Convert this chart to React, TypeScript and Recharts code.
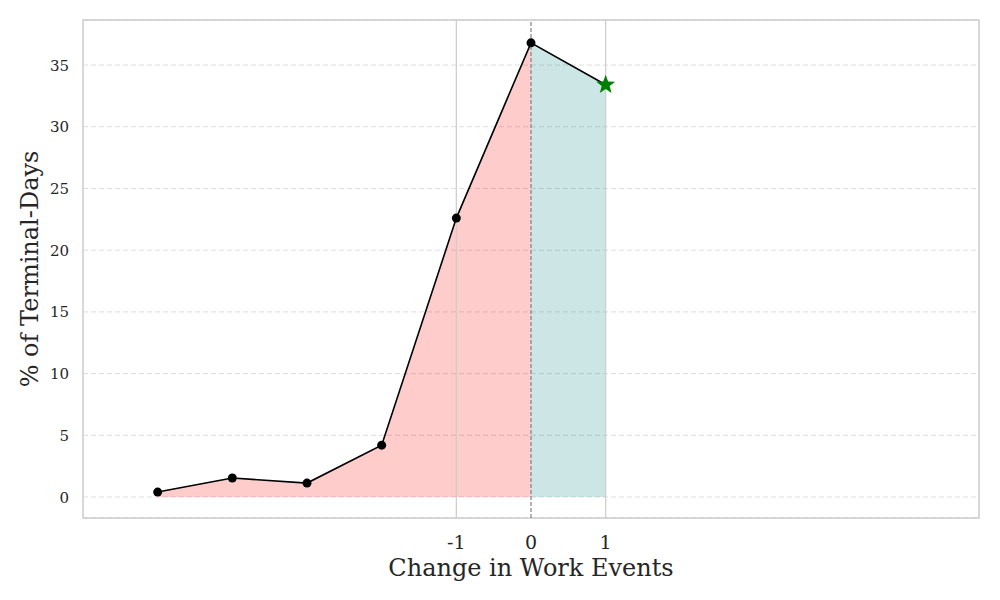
import React from 'react';
import {
  ComposedChart, Area, Line, XAxis, YAxis, CartesianGrid, ReferenceLine, ReferenceArea,
} from 'recharts';

const changes = [-5, -4, -3, -2, -1, 0, 1];
const pctDays = [0.4, 1.54, 1.13, 4.2, 22.6, 36.8, 33.4];
const xTicks = [-1, 0, 1];
const yTicks = [0, 5, 10, 15, 20, 25, 30, 35];

const data = changes.map((x, i) => ({
  x,
  v: pctDays[i],
  neg: x <= 0 ? pctDays[i] : null,
  pos: x >= 0 ? pctDays[i] : null,
}));

const FONT = '"DejaVu Serif", serif';
const INK = '#262626';
const lastX = changes[changes.length - 1];

const starPoints = (cx: number, cy: number, r: number) => {
  const pts: string[] = [];
  for (let k = 0; k < 10; k++) {
    const rad = k % 2 === 0 ? r : r * 0.42;
    const a = -Math.PI / 2 + (k * Math.PI) / 5;
    pts.push(`${cx + rad * Math.cos(a)},${cy + rad * Math.sin(a)}`);
  }
  return pts.join(' ');
};

const Dot = (props: any) => {
  const { cx, cy, payload, index } = props;
  if (cx == null || cy == null) return <g key={index} />;
  if (payload.x === lastX) {
    return <polygon key={index} points={starPoints(cx, cy, 10)} fill="#008000" />;
  }
  return <circle key={index} cx={cx} cy={cy} r={4.5} fill="#000" />;
};

const XTick = (props: any) => {
  const { x, y, payload } = props;
  return (
    <text x={x} y={y + 31} textAnchor="middle" fontFamily={FONT} fontSize={19} fill={INK}>
      {payload.value}
    </text>
  );
};

const YTick = (props: any) => {
  const { x, y, payload } = props;
  return (
    <text x={x - 14} y={y + 5.5} textAnchor="end" fontFamily={FONT} fontSize={15} fill={INK}>
      {payload.value}
    </text>
  );
};

const XLabel = (props: any) => {
  const { viewBox } = props;
  return (
    <text x={viewBox.x + viewBox.width / 2} y={576} textAnchor="middle" fontFamily={FONT} fontSize={24} fill={INK}>
      Change in Work Events
    </text>
  );
};

const YLabel = (props: any) => {
  const { viewBox } = props;
  const cy = viewBox.y + viewBox.height / 2;
  return (
    <text x={38} y={cy} transform={`rotate(-90, 38, ${cy})`} textAnchor="middle" fontFamily={FONT} fontSize={24} fill={INK}>
      % of Terminal-Days
    </text>
  );
};

export default function App() {
  return (
    <div style={{ position: 'absolute', left: 0, top: 0, background: '#fff' }}>
      <ComposedChart width={1000} height={600} data={data} margin={{ top: 20, right: 21, left: 0, bottom: 0 }}>
        <CartesianGrid vertical={false} stroke="#dddddd" strokeDasharray="5 3" />
        <ReferenceArea x1={-6} x2={6} y1={-1.7} y2={38.65} fill="none" stroke="#cccccc" strokeWidth={1.5} ifOverflow="visible" />
        <ReferenceLine x={-1} stroke="#cccccc" strokeWidth={1.2} />
        <ReferenceLine x={1} stroke="#cccccc" strokeWidth={1.2} />
        <Area dataKey="neg" type="linear" baseValue={0} stroke="none" fill="#ff0000" fillOpacity={0.2} isAnimationActive={false} />
        <Area dataKey="pos" type="linear" baseValue={0} stroke="none" fill="#008080" fillOpacity={0.2} isAnimationActive={false} />
        <ReferenceLine x={0} stroke="#808080" strokeWidth={1.2} strokeDasharray="4 2" />
        <Line dataKey="v" type="linear" stroke="#000" strokeWidth={1.6} dot={<Dot />} activeDot={false} isAnimationActive={false} />
        <XAxis
          dataKey="x"
          type="number"
          domain={[-6, 6]}
          ticks={xTicks}
          height={82}
          axisLine={false}
          tickLine={false}
          tickSize={0}
          tickMargin={0}
          tick={<XTick />}
          label={<XLabel />}
        />
        <YAxis
          type="number"
          domain={[-1.7, 38.65]}
          ticks={yTicks}
          allowDataOverflow
          width={83}
          axisLine={false}
          tickLine={false}
          tickSize={0}
          tickMargin={0}
          tick={<YTick />}
          label={<YLabel />}
        />
      </ComposedChart>
    </div>
  );
}
